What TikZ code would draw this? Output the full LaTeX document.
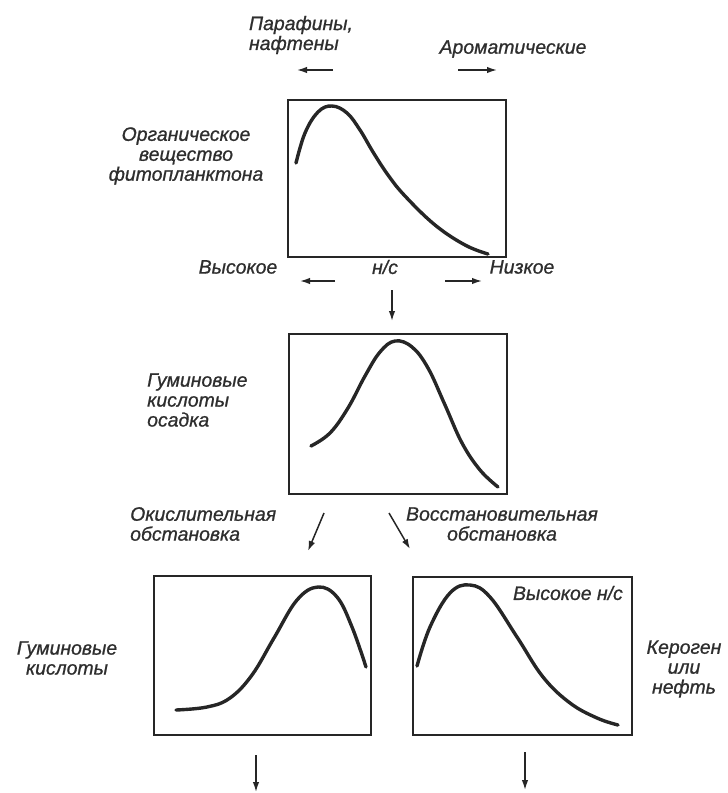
\documentclass[tikz,border=0pt]{standalone}
\usepackage{fontspec}
\setmainfont{Liberation Sans}[ItalicFeatures={FakeBold=0.9}]
\usetikzlibrary{arrows.meta}
\begin{document}
\begin{tikzpicture}[x=1bp,y=-1bp,
  lbl/.style={font=\fontsize{19.5}{20}\selectfont\itshape, inner sep=0pt, text=black!82},
  frame/.style={draw=black!85, line width=1.8bp},
  crv/.style={draw=black!85, line width=3.4bp, line cap=round, smooth, tension=0.65},
  arr/.style={draw=black!85, line width=1.5bp, -{Latex[length=10bp,width=6.5bp]}}]
\useasboundingbox (0,0) rectangle (728,793);
% boxes
\node[frame, minimum width=218bp, minimum height=157bp, inner sep=0pt] (b1) at (397,178.5) {};
\node[frame, minimum width=218bp, minimum height=160bp, inner sep=0pt] (b2) at (398,414) {};
\node[frame, minimum width=217bp, minimum height=159bp, inner sep=0pt] (b3) at (262.5,655.5) {};
\node[frame, minimum width=219bp, minimum height=158bp, inner sep=0pt] (b4) at (522.5,656) {};
% curves
\draw[crv] plot coordinates {(296,163) (305,133) (318,112) (332,106) (347,113) (360,130) (373,152) (388,175) (405,196) (435,225) (465,245) (488,254)};
\draw[crv] plot coordinates {(311,446) (330,433) (348,408) (365,376) (380,352) (395,341) (412,347) (428,368) (445,405) (462,443) (480,470) (498,487)};
\draw[crv] plot coordinates {(176,710) (207,707) (230,698) (252,675) (274,638) (297,600) (318,587) (337,597) (352,627) (366,667)};
\draw[crv] plot coordinates {(417,666) (430,627) (450,593) (470,585) (490,597) (517,637) (543,677) (570,703) (597,718) (618,725)};
% top labels
\node[lbl, align=left] (par) at (301,35) {Парафины,\\нафтены};
\node[lbl] (aro) at (513,49) {Ароматические};
\coordinate (pa1) at (333,70); \coordinate (pa2) at (297,70);
\coordinate (ar1) at (458,70); \coordinate (ar2) at (497,70);
\draw[arr] (pa1) -- (pa2);
\draw[arr] (ar1) -- (ar2);
\node[lbl, align=center] (org) at (186,156) {Органическое\\вещество\\фитопланктона};
% axis labels
\node[lbl] (vys) at (238,267) {Высокое};
\node[lbl] (hc) at (385,267) {н/с};
\node[lbl] (niz) at (522,267) {Низкое};
\coordinate (l1) at (335,281); \coordinate (l2) at (300,281);
\coordinate (r1) at (445,281); \coordinate (r2) at (482,281);
\draw[arr] (l1) -- (l2);
\draw[arr] (r1) -- (r2);
\coordinate (d1) at (392,290); \coordinate (d2) at (392,321);
\draw[arr] (d1) -- (d2);
% second level
\node[lbl, align=left, anchor=west] (gum) at (147,400) {Гуминовые\\кислоты\\осадка};
\node[lbl, align=left, anchor=west] (oks) at (130,524) {Окислительная\\обстановка};
\node[lbl, align=center] (vos) at (502,524) {Восстановительная\\обстановка};
\coordinate (o1) at (324,513); \coordinate (o2) at (308,551);
\coordinate (v1) at (389,513); \coordinate (v2) at (410,549);
\draw[arr] (o1) -- (o2);
\draw[arr] (v1) -- (v2);
% bottom level
\node[lbl, align=center] (gum2) at (67,658) {Гуминовые\\кислоты};
\node[lbl, align=center] (ker) at (684,669) {Кероген\\или\\нефть};
\node[lbl, anchor=east] (vhc) at (623,593) {Высокое н/с};
\coordinate (e1) at (256,755); \coordinate (e2) at (256,792);
\coordinate (f1) at (525,752); \coordinate (f2) at (525,790);
\draw[arr] (e1) -- (e2);
\draw[arr] (f1) -- (f2);
\end{tikzpicture}
\end{document}
